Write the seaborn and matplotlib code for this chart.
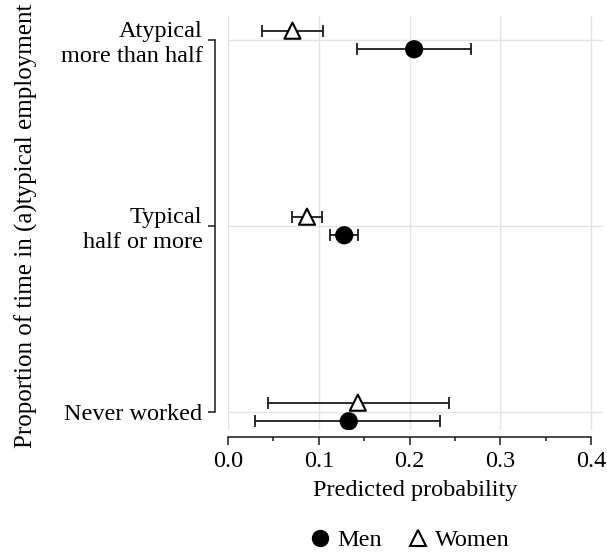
import matplotlib
matplotlib.use("Agg")
import matplotlib.pyplot as plt
import numpy as np
import pandas as pd
import seaborn as sns
from matplotlib.lines import Line2D
from matplotlib.ticker import MultipleLocator

CATEGORIES = ["Never worked", "Typical\nhalf or more", "Atypical\nmore than half"]
GROUPS = ["Men", "Women"]
MEN_EST = [0.133, 0.128, 0.205]
MEN_LO = [0.030, 0.112, 0.142]
MEN_HI = [0.234, 0.143, 0.268]
WOMEN_EST = [0.143, 0.087, 0.071]
WOMEN_LO = [0.044, 0.071, 0.038]
WOMEN_HI = [0.243, 0.104, 0.105]

OFFSET = {"Men": -0.05, "Women": 0.05}
MARKERS = {"Men": "o", "Women": "^"}

rows = []
for group, est, lo, hi in [("Men", MEN_EST, MEN_LO, MEN_HI), ("Women", WOMEN_EST, WOMEN_LO, WOMEN_HI)]:
    for i, cat in enumerate(CATEGORIES):
        rows.append({"group": group, "cat": cat, "y": i + OFFSET[group], "est": est[i], "lo": lo[i], "hi": hi[i]})
frame = pd.DataFrame(rows)

sns.set_theme(style="white")
plt.rcParams["font.family"] = ["Liberation Serif", "DejaVu Serif"]
plt.rcParams["font.size"] = 17.5
plt.rcParams["text.color"] = "black"
plt.rcParams["axes.labelcolor"] = "black"
plt.rcParams["xtick.color"] = "black"
plt.rcParams["ytick.color"] = "black"

fig = plt.figure(figsize=(6.07, 5.57), dpi=100)
ax = fig.add_axes([0.3756, 0.228, 0.6178, 0.7433])

ax.grid(True, color="#E3E3E3", linewidth=1.0)
ax.set_axisbelow(True)

for group in GROUPS:
    sub = frame[frame["group"] == group]
    ax.errorbar(
        sub["est"], sub["y"],
        xerr=[sub["est"] - sub["lo"], sub["hi"] - sub["est"]],
        fmt="none", ecolor="#1a1a1a", elinewidth=1.3, capsize=4, capthick=1.3, zorder=2,
    )

sns.scatterplot(
    data=frame, x="est", y="y", style="group", markers=MARKERS, hue="group",
    palette={"Men": "black", "Women": "white"}, edgecolor="black", linewidth=1.5,
    s=135, ax=ax, legend=False, zorder=3,
)

ax.set_xlim(0, 0.413)
ax.set_ylim(-0.097, 2.129)
ax.set_xticks([0.0, 0.1, 0.2, 0.3, 0.4])
ax.set_xticklabels(["0.0", "0.1", "0.2", "0.3", "0.4"])
ax.xaxis.set_minor_locator(MultipleLocator(0.05))
ax.set_yticks(range(len(CATEGORIES)))
ax.set_yticklabels(CATEGORIES, linespacing=1.0)

for side in ["top", "right"]:
    ax.spines[side].set_visible(False)
ax.spines["left"].set_position(("outward", 9.4))
ax.spines["left"].set_bounds(0, 2)
ax.spines["bottom"].set_position(("outward", 5))
ax.spines["bottom"].set_bounds(0, 0.4)
for side in ["left", "bottom"]:
    ax.spines[side].set_color("#1a1a1a")
    ax.spines[side].set_linewidth(1.1)

ax.tick_params(axis="both", which="major", direction="out", length=5, width=1.1,
               color="#1a1a1a", labelsize=17.5, bottom=True, left=True, pad=4)
ax.tick_params(axis="x", which="major", length=6)
ax.tick_params(axis="x", which="minor", direction="out", length=3, width=1.1,
               color="#1a1a1a", bottom=True)

ax.set_xlabel("Predicted probability", fontsize=17.5, labelpad=6)
ax.set_ylabel("Proportion of time in (a)typical employment", fontsize=18)
ax.yaxis.set_label_coords(-0.507, 0.4926)

handles = [
    Line2D([], [], marker="o", linestyle="none", markerfacecolor="black", markeredgecolor="black", markersize=11.5),
    Line2D([], [], marker="^", linestyle="none", markerfacecolor="white", markeredgecolor="black",
           markeredgewidth=1.5, markersize=12),
]
fig.legend(handles, GROUPS, loc="center", bbox_to_anchor=(0.674, 0.0305), ncol=2, frameon=False,
           fontsize=17.5, handletextpad=0.2, columnspacing=1.0, handlelength=1.0)

fig.savefig("out.png", dpi=100)
